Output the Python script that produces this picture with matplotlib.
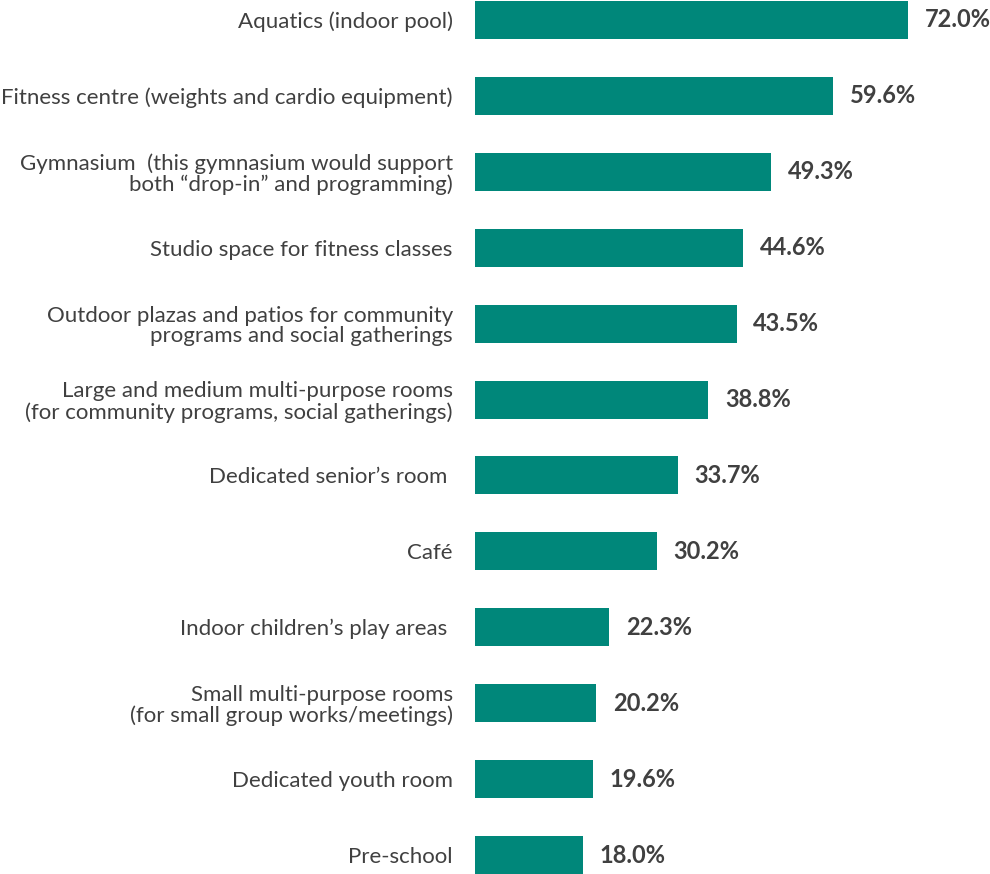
import numpy as np
import matplotlib.pyplot as plt

categories = [
    "Aquatics (indoor pool)",
    "Fitness centre (weights and cardio equipment)",
    "Gymnasium  (this gymnasium would support\nboth \u201cdrop-in\u201d and programming)",
    "Studio space for fitness classes",
    "Outdoor plazas and patios for community\nprograms and social gatherings",
    "Large and medium multi-purpose rooms\n(for community programs, social gatherings)",
    "Dedicated senior\u2019s room ",
    "Caf\u00e9",
    "Indoor children\u2019s play areas ",
    "Small multi-purpose rooms\n(for small group works/meetings)",
    "Dedicated youth room",
    "Pre-school",
]
values = [72.0, 59.6, 49.3, 44.6, 43.5, 38.8, 33.7, 30.2, 22.3, 20.2, 19.6, 18.0]

BAR_COLOR = "#00877a"
TEXT_COLOR = "#404040"

fig = plt.figure(figsize=(9.9, 8.74), dpi=100)
ax = fig.add_axes([475 / 990, 0, 515 / 990, 1])

y = np.arange(len(categories))
ax.barh(y, values, height=0.5, color=BAR_COLOR)

ax.set_xlim(0, 515 / 6.014)
ax.set_ylim(11.25, -0.263)

ax.set_yticks(y)
ax.set_yticklabels(categories, fontsize=16, color=TEXT_COLOR,
                   family="Lato", linespacing=1.05)
ax.tick_params(axis="y", length=0, pad=16)
ax.set_xticks([])
for side in ax.spines.values():
    side.set_visible(False)

for yi, v in zip(y, values):
    ax.annotate(f"{v:.1f}%", xy=(v, yi), xytext=(12, 0),
                textcoords="offset points", va="center", ha="left",
                fontsize=17, fontweight="bold", color=TEXT_COLOR,
                family="Lato")

fig.savefig("out.png", dpi=100)
